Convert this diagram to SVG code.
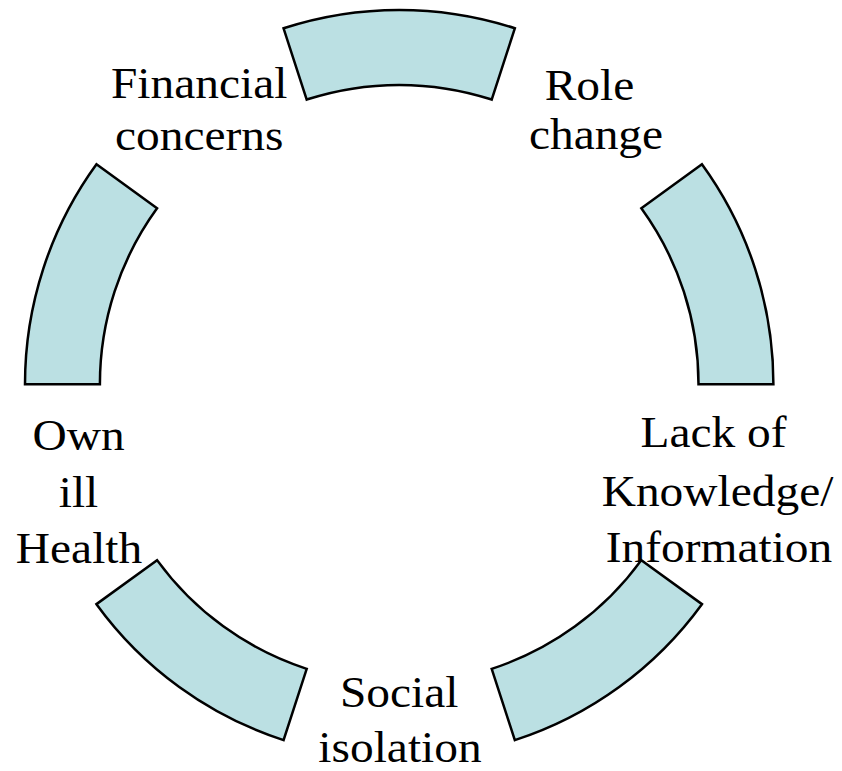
<svg xmlns="http://www.w3.org/2000/svg" width="842" height="771" viewBox="0 0 842 771">
  <style>
    .seg { fill: #BBE0E3; stroke: #000000; stroke-width: 2.5; stroke-linejoin: miter; }
    .lbl { font-family: "Liberation Serif", "Times New Roman", serif; font-size: 43.5px; fill: #000000; text-anchor: middle; }
  </style>
  <rect width="842" height="771" fill="#FFFFFF"/>

  <!-- ring segments between the labels (centre 399.2,384.2; r 299.3..374.2) -->
  <g id="connectors">
    <path class="seg" d="M773.4 384.2 A374.2 374.2 0 0 0 701.94 164.25 L641.34 208.27 A299.3 299.3 0 0 1 698.5 384.2 Z"/>
    <path class="seg" d="M514.84 28.31 A374.2 374.2 0 0 0 283.56 28.31 L306.71 99.55 A299.3 299.3 0 0 1 491.69 99.55 Z"/>
    <path class="seg" d="M96.46 164.25 A374.2 374.2 0 0 0 25 384.2 L99.9 384.2 A299.3 299.3 0 0 1 157.06 208.27 Z"/>
    <path class="seg" d="M96.46 604.15 A374.2 374.2 0 0 0 283.56 740.09 L306.71 668.85 A299.3 299.3 0 0 1 157.06 560.13 Z"/>
    <path class="seg" d="M514.84 740.09 A374.2 374.2 0 0 0 701.94 604.15 L641.34 560.13 A299.3 299.3 0 0 1 491.69 668.85 Z"/>
  </g>

  <g id="financial-concerns">
    <text class="lbl" transform="translate(199.2 98.3) scale(1.09 1)">Financial</text>
    <text class="lbl" transform="translate(199.2 150) scale(1.09 1)">concerns</text>
  </g>

  <g id="role-change">
    <text class="lbl" transform="translate(589.5 100) scale(1.09 1)">Role</text>
    <text class="lbl" transform="translate(596 149) scale(1.09 1)">change</text>
  </g>

  <g id="lack-of-knowledge">
    <text class="lbl" transform="translate(713.5 446.7) scale(1.09 1)">Lack of</text>
    <text class="lbl" transform="translate(717.5 505.5) scale(1.09 1)">Knowledge/</text>
    <text class="lbl" transform="translate(719 561.7) scale(1.09 1)">Information</text>
  </g>

  <g id="social-isolation">
    <text class="lbl" transform="translate(399.2 706.7) scale(1.09 1)">Social</text>
    <text class="lbl" transform="translate(400 761.7) scale(1.09 1)">isolation</text>
  </g>

  <g id="own-ill-health">
    <text class="lbl" transform="translate(78.5 450) scale(1.09 1)">Own</text>
    <text class="lbl" transform="translate(78.5 506.7) scale(1.09 1)">ill</text>
    <text class="lbl" transform="translate(79 563.3) scale(1.09 1)">Health</text>
  </g>
</svg>
